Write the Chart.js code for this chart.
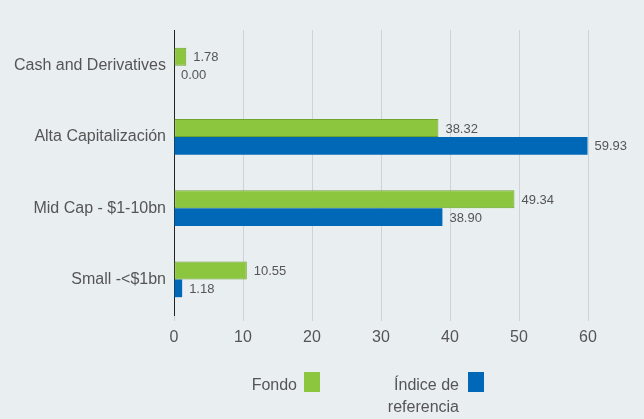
<!DOCTYPE html>
<html>
<head>
<meta charset="utf-8">
<script src="https://cdn.jsdelivr.net/npm/chart.js@4"></script>
<style>
  html, body { margin: 0; padding: 0; background: #e9eef1; }
  #wrap { position: relative; width: 644px; height: 419px; font-family: "Liberation Sans", Arial, sans-serif; }
  #chart { position: absolute; left: 0; top: 0; }
  .leg { position: absolute; color: #555; font-size: 16px; line-height: 22px; text-align: right; }
  .box { position: absolute; width: 16px; height: 20px; }
</style>
</head>
<body>
<div id="wrap">
  <canvas id="chart" width="644" height="419"></canvas>
  <div class="leg" style="right:347px; top:374px;">Fondo</div>
  <div class="box" style="left:304px; top:372px; background:#8cc63f;"></div>
  <div class="leg" style="right:185px; top:374px;">Índice de<br>referencia</div>
  <div class="box" style="left:468px; top:372px; background:#0068b7;"></div>
</div>
<script>
const categories = ["Cash and Derivatives", "Alta Capitalización", "Mid Cap - $1-10bn", "Small -<$1bn"];
const fundValues = [1.78, 38.32, 49.34, 10.55];
const indexValues = [0.00, 59.93, 38.90, 1.18];
const seriesNames = ["Fondo", "Índice de referencia"];

const valueLabels = {
  id: "valueLabels",
  afterDatasetsDraw(chart) {
    const ctx = chart.ctx;
    ctx.save();
    ctx.font = "13px 'Liberation Sans', Arial, sans-serif";
    ctx.fillStyle = "#555";
    ctx.textAlign = "left";
    ctx.textBaseline = "middle";
    chart.data.datasets.forEach((ds, i) => {
      chart.getDatasetMeta(i).data.forEach((bar, j) => {
        ctx.fillText(ds.data[j].toFixed(2), bar.x + 7, bar.y + 1);
      });
    });
    ctx.restore();
  }
};

new Chart(document.getElementById("chart"), {
  type: "bar",
  data: {
    labels: categories,
    datasets: [
      {
        label: seriesNames[0],
        data: fundValues,
        backgroundColor: "#8cc63f",
        borderColor: "#6ea52c",
        borderWidth: 1,
        borderSkipped: false,
        barPercentage: 1,
        categoryPercentage: 0.5,
      },
      {
        label: seriesNames[1],
        data: indexValues,
        backgroundColor: "#0068b7",
        borderWidth: 0,
        barPercentage: 1,
        categoryPercentage: 0.5,
      },
    ],
  },
  options: {
    indexAxis: "y",
    responsive: false,
    animation: false,
    layout: { padding: { top: 30, right: 56, left: 0, bottom: 0 } },
    plugins: {
      legend: { display: false },
      tooltip: { enabled: false },
    },
    scales: {
      x: {
        min: 0,
        max: 60,
        ticks: {
          stepSize: 10,
          color: "#555",
          padding: 7,
          font: { size: 16, family: "'Liberation Sans', Arial, sans-serif" },
        },
        grid: { color: "#cfd3d6", tickLength: 6, tickColor: "#cfd3d6" },
        border: { display: false },
        afterFit: (s) => { s.height = 104; },
      },
      y: {
        ticks: {
          color: "#555",
          padding: 0,
          font: { size: 16, family: "'Liberation Sans', Arial, sans-serif" },
        },
        grid: { display: false },
        border: { color: "#222", width: 1 },
        afterFit: (s) => { s.width = 174; },
      },
    },
  },
  plugins: [valueLabels],
});
</script>
</body>
</html>
